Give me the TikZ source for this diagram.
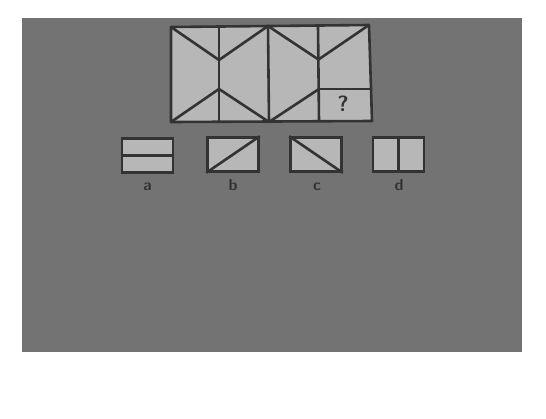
\documentclass[tikz,border=0pt]{standalone}
\usepackage{tikz}

\definecolor{bggray}{HTML}{737373}
\definecolor{cellgray}{HTML}{B7B7B7}
\definecolor{inkgray}{HTML}{333333}

\tikzset{
	line/.style={draw=inkgray,line width=2.6pt,line join=round},
	optbox/.style={shape=rectangle,draw=inkgray,fill=cellgray,line width=2.6pt,minimum width=51pt,minimum height=34pt,inner sep=0pt},
	optlabel/.style={text=inkgray,font=\sffamily\bfseries\fontsize{16}{18}\selectfont}
}

\begin{document}
\begin{tikzpicture}[x=1pt,y=-1pt]
	\useasboundingbox (0,0) rectangle (546,418);
	\fill[bggray] (22,18) rectangle (522,352);

	% the puzzle
	\coordinate (tl) at (171,27);
	\coordinate (tr) at (369,25);
	\coordinate (br) at (372,121);
	\coordinate (bl) at (171,122);
	\coordinate (t1) at (219,26.5);
	\coordinate (t2) at (268,26);
	\coordinate (t3) at (318,25.5);
	\coordinate (b1) at (219,122);
	\coordinate (b2) at (269,122);
	\coordinate (b3) at (319,121.5);
	\coordinate (m1) at (219,60);
	\coordinate (n1) at (219,89);
	\coordinate (m3) at (318.5,59.5);
	\coordinate (n3) at (319,89);
	\coordinate (n4) at (371,89);

	\path[line,fill=cellgray] (tl) -- (tr) -- (br) -- (bl) -- cycle;
	\path[line] (t1) -- (b1);
	\path[line] (t2) -- (b2);
	\path[line] (t3) -- (b3);
	\path[line] (tl) -- (m1) -- (t2) -- (m3) -- (tr);
	\path[line] (bl) -- (n1) -- (b2) -- (n3);
	\path[line] (n3) -- (n4);
	\node[optlabel,font=\sffamily\bfseries\fontsize{22}{24}\selectfont] (q) at (343,104) {?};

	% the answers
	\node[optbox] (a) at (147.5,155.5) {};
	\node[optbox] (b) at (233,154.5) {};
	\node[optbox] (c) at (316,154.5) {};
	\node[optbox] (d) at (398.5,154.5) {};

	\path[line] (a.west) -- (a.east);
	\path[line] (b.south west) -- (b.north east);
	\path[line] (c.north west) -- (c.south east);
	\path[line] (d.north) -- (d.south);

	\node[optlabel,anchor=base] (la) at (147.5,190) {a};
	\node[optlabel,anchor=base] (lb) at (233,190) {b};
	\node[optlabel,anchor=base] (lc) at (317,190) {c};
	\node[optlabel,anchor=base] (ld) at (399,190) {d};
\end{tikzpicture}
\end{document}
